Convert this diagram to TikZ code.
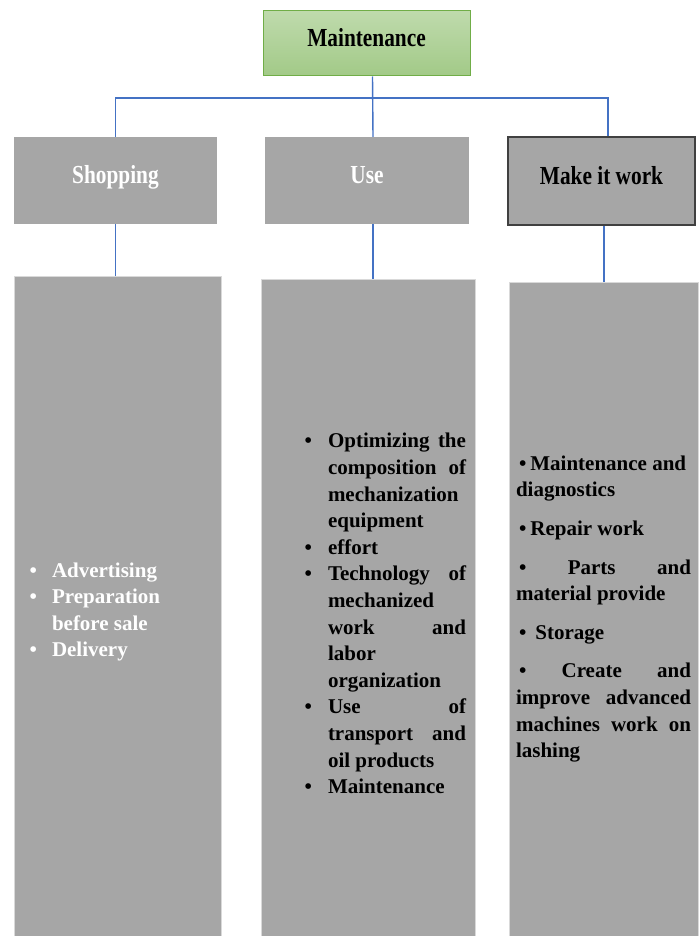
\documentclass[tikz,border=0pt]{standalone}
\usepackage{fontspec}
\setmainfont{Liberation Serif}
\newfontfamily\headfont{Liberation Serif}[FakeStretch=0.82]
\usepackage{xcolor}
\usepackage{enumitem}
\usetikzlibrary{calc}
\definecolor{boxgray}{HTML}{A6A6A6}
\definecolor{linkblue}{HTML}{4472C4}
\definecolor{edgegreen}{HTML}{70AD47}
\setlist[itemize]{nosep, label=\textbullet}
\hbadness=10000
\hyphenpenalty=10000
\tikzset{
    head/.style={minimum height=87pt, fill=boxgray, inner sep=0pt,
        font=\headfont\bfseries\fontsize{26}{30}\selectfont,
        text height=18pt, text depth=12pt},
    listbox/.style={fill=boxgray, draw=gray!30, line width=0.8pt, inner xsep=9pt, align=justify,
        font=\bfseries\fontsize{21}{26.6}\selectfont},
    link/.style={draw=linkblue, line width=1.4pt}
}

\begin{document}
\begin{tikzpicture}[x=1pt, y=-1pt]
            \useasboundingbox (0, 0) rectangle (698, 936);
            \node[draw=edgegreen, line width=1pt, top color=edgegreen!45, bottom color=edgegreen!65,
                minimum width=207pt, minimum height=65pt, inner sep=0pt,
                font=\headfont\bfseries\fontsize{26}{30}\selectfont, text height=18pt, text depth=12pt]
                (maint) at (366.5, 43.5) {Maintenance};
            \node[head, minimum width=203pt, text=white] (shop) at (115.5, 180.5) {Shopping};
            \node[head, minimum width=204pt, text=white] (use) at (367, 180.5) {Use};
            \node[head, minimum width=187pt, minimum height=88pt, draw=black!75, line width=1.5pt]
                (work) at (601.5, 181) {Make it work};
            \node[listbox, text width=189pt, minimum height=660pt, text=white] (shoplist) at (117.5, 606) {%
                \begin{itemize}[leftmargin=29pt, labelsep=15pt]
                    \item Advertising
                    \item Preparation\newline before sale
                    \item Delivery
                \end{itemize}};
            \node[listbox, text width=196pt, minimum height=657pt] (uselist) at (368, 607.5) {%
                \begin{itemize}[leftmargin=58pt, labelsep=16pt]
                    \item Optimizing the\linebreak composition of\linebreak mechanization\newline equipment
                    \item effort
                    \item Technology of\linebreak mechanized\newline work and\linebreak labor\newline organization
                    \item Use of\linebreak transport and\linebreak oil products
                    \item Maintenance
                \end{itemize}};
            \node[listbox, text width=175pt, inner xsep=7pt, minimum height=654pt] (worklist) at (603.5, 609) {%
                \setlength{\parindent}{0pt}\setlength{\parskip}{12pt}%
                \hspace*{3pt}\textbullet\hspace{4pt}Maintenance and\newline diagnostics\par
                \hspace*{3pt}\textbullet\hspace{4pt}Repair work\par
                \hspace*{3pt}\textbullet{} Parts and\linebreak material provide\par
                \hspace*{3pt}\textbullet\hspace{9pt}Storage\par
                \hspace*{3pt}\textbullet{} Create and\linebreak improve advanced\linebreak machines work on\linebreak lashing\par};
            \coordinate (bar) at (0, 98);
            \draw[link] ([xshift=6pt]maint.south) -- ([xshift=6pt]use.north);
            \draw[link] (shop.north) |- ([xshift=6.5pt]work.north |- bar) -- ([xshift=6.5pt]work.north);
            \draw[link] (shop.south) -- (shop.south |- shoplist.north);
            \draw[link] ([xshift=6pt]use.south) -- ([xshift=6pt]use.south |- uselist.north);
            \draw[link] ([xshift=2.5pt]work.south) -- ([xshift=2.5pt]work.south |- worklist.north);
\end{tikzpicture}
\end{document}
